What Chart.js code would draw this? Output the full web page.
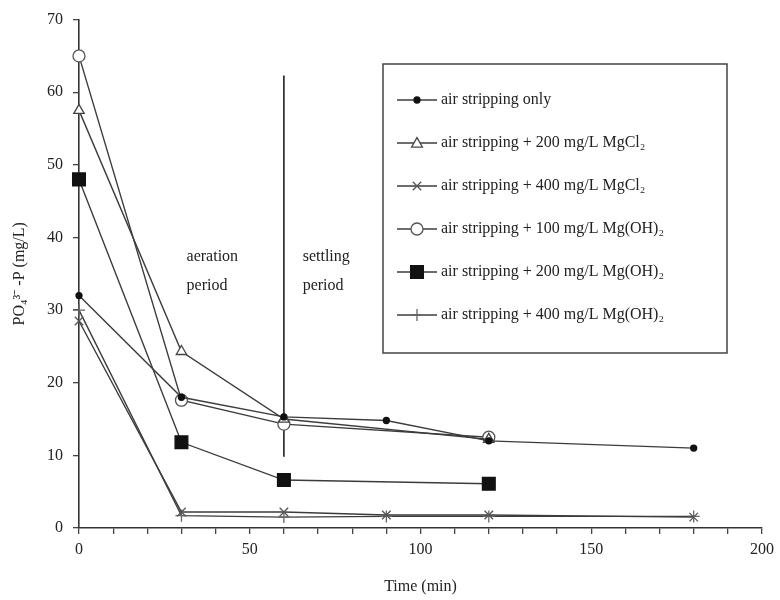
<!DOCTYPE html>
<html>
<head>
<meta charset="utf-8">
<script src="https://cdn.jsdelivr.net/npm/chart.js@4.4.1/dist/chart.umd.min.js"></script>
<style>
  html, body { margin: 0; padding: 0; background: #fff; }
  #wrap { width: 780px; height: 600px; }
</style>
</head>
<body>
<div id="wrap"><canvas id="c" width="780" height="600"></canvas></div>
<script>
// ---- data ----
const seriesNames = [
  "air stripping only",
  "air stripping + 200 mg/L MgCl₂",
  "air stripping + 400 mg/L MgCl₂",
  "air stripping + 100 mg/L Mg(OH)₂",
  "air stripping + 200 mg/L Mg(OH)₂",
  "air stripping + 400 mg/L Mg(OH)₂"
];
const timeOnly      = [0, 30, 60, 90, 120, 180];
const valuesOnly    = [32, 18, 15.3, 14.8, 12, 11];
const timeMgCl200   = [0, 30, 60, 120];
const valuesMgCl200 = [57.5, 24.3, 15, 12.2];
const timeMgCl400   = [0, 30, 60, 90, 120, 180];
const valuesMgCl400 = [28.5, 2.2, 2.2, 1.8, 1.8, 1.5];
const timeMgOH100   = [0, 30, 60, 120];
const valuesMgOH100 = [65, 17.6, 14.3, 12.5];
const timeMgOH200   = [0, 30, 60, 120];
const valuesMgOH200 = [48, 11.8, 6.6, 6.1];
const timeMgOH400   = [0, 30, 60, 90, 120, 180];
const valuesMgOH400 = [30, 1.7, 1.5, 1.6, 1.6, 1.6];

const dividerTime  = 60;
const dividerRange = [9.8, 62.3];
const periodLabels = [["aeration", "period"], ["settling", "period"]];

const xTickLabels = [0, 50, 100, 150, 200];
const yTickLabels = [0, 10, 20, 30, 40, 50, 60, 70];

const FONT = "'Liberation Serif', 'Times New Roman', serif";
const LINE = '#3c3c3c';

function pts(xs, ys) { return xs.map((x, i) => ({ x: x, y: ys[i] })); }

const styles = [
  { pointStyle: 'circle',   pointRadius: 3, bg: '#111', border: '#111' },
  { pointStyle: 'triangle', pointRadius: 6, bg: '#fff', border: '#444' },
  { pointStyle: 'crossRot', pointRadius: 6, bg: '#fff', border: '#555' },
  { pointStyle: 'circle',   pointRadius: 6, bg: '#fff', border: '#555' },
  { pointStyle: 'rect',     pointRadius: 9, bg: '#111', border: '#111' },
  { pointStyle: 'cross',    pointRadius: 6, bg: '#fff', border: '#666' }
];
const seriesData = [
  pts(timeOnly, valuesOnly),
  pts(timeMgCl200, valuesMgCl200),
  pts(timeMgCl400, valuesMgCl400),
  pts(timeMgOH100, valuesMgOH100),
  pts(timeMgOH200, valuesMgOH200),
  pts(timeMgOH400, valuesMgOH400)
];

const datasets = seriesData.map((d, i) => ({
  label: seriesNames[i],
  data: d,
  borderColor: LINE,
  borderWidth: 1.4,
  pointStyle: styles[i].pointStyle,
  pointRadius: styles[i].pointRadius,
  pointBackgroundColor: styles[i].bg,
  pointBorderColor: styles[i].border,
  pointBorderWidth: 1.3,
  tension: 0,
  fill: false,
  clip: false
}));
datasets.push({
  label: '_divider',
  data: dividerRange.map(v => ({ x: dividerTime, y: v })),
  borderColor: '#111',
  borderWidth: 1.5,
  pointRadius: 0,
  fill: false
});

// marker drawing for the boxed legend
function drawMarker(ctx, st, x, y) {
  const r = st.pointRadius;
  ctx.save();
  ctx.fillStyle = st.bg;
  ctx.strokeStyle = st.border;
  ctx.lineWidth = 1.3;
  ctx.beginPath();
  switch (st.pointStyle) {
    case 'circle':
      ctx.arc(x, y, r, 0, Math.PI * 2); ctx.fill(); ctx.stroke(); break;
    case 'triangle': {
      const s = r * 0.9;
      ctx.moveTo(x, y - s); ctx.lineTo(x + s, y + s * 0.75); ctx.lineTo(x - s, y + s * 0.75); ctx.closePath();
      ctx.fill(); ctx.stroke(); break;
    }
    case 'crossRot': {
      const s = r * 0.7;
      ctx.moveTo(x - s, y - s); ctx.lineTo(x + s, y + s); ctx.moveTo(x + s, y - s); ctx.lineTo(x - s, y + s); ctx.stroke(); break;
    }
    case 'cross':
      ctx.moveTo(x, y - r); ctx.lineTo(x, y + r); ctx.moveTo(x - r, y); ctx.lineTo(x + r, y); ctx.stroke(); break;
    case 'rect': {
      const s = r * Math.SQRT1_2;
      ctx.rect(x - s, y - s, 2 * s, 2 * s); ctx.fill(); ctx.stroke(); break;
    }
  }
  ctx.restore();
}

const overlay = {
  id: 'overlay',
  afterDatasetsDraw(chart) {
    const ctx = chart.ctx;
    const xs = chart.scales.x, ys = chart.scales.y;
    ctx.save();
    ctx.fillStyle = '#222';
    ctx.font = '16px ' + FONT;
    ctx.textBaseline = 'middle';
    ctx.textAlign = 'left';
    const lx = [31.5, 65.5];
    periodLabels.forEach((lines, i) => {
      lines.forEach((t, j) => {
        ctx.fillText(t, xs.getPixelForValue(lx[i]), ys.getPixelForValue(37.3 - j * 3.9));
      });
    });
    // boxed legend
    const bx = 383, by = 64, bw = 344, bh = 289;
    ctx.fillStyle = '#fff';
    ctx.fillRect(bx, by, bw, bh);
    ctx.strokeStyle = '#444';
    ctx.lineWidth = 1.5;
    ctx.strokeRect(bx, by, bw, bh);
    seriesNames.forEach((name, i) => {
      const y = 100 + i * 43;
      ctx.strokeStyle = LINE;
      ctx.lineWidth = 1.4;
      ctx.beginPath();
      ctx.moveTo(bx + 14, y); ctx.lineTo(bx + 54, y); ctx.stroke();
      drawMarker(ctx, styles[i], bx + 34, y);
      ctx.fillStyle = '#222';
      ctx.font = '16px ' + FONT;
      ctx.fillText(name, bx + 58, y);
    });
    ctx.restore();
  }
};

new Chart(document.getElementById('c'), {
  type: 'line',
  data: { datasets: datasets },
  plugins: [overlay],
  options: {
    responsive: false,
    animation: false,
    layout: { padding: { top: 18, right: 17, bottom: 0, left: 0 } },
    plugins: { legend: { display: false }, tooltip: { enabled: false } },
    scales: {
      x: {
        type: 'linear',
        min: 0, max: 200,
        ticks: {
          stepSize: 10,
          autoSkip: false,
          maxRotation: 0,
          color: '#222',
          font: { family: FONT, size: 16 },
          padding: 6,
          callback: v => xTickLabels.includes(v) ? String(v) : ''
        },
        grid: { display: true, drawOnChartArea: false, drawTicks: true, tickLength: 6, color: '#444', lineWidth: 1.3 },
        border: { display: true, color: '#333', width: 1.6 },
        title: { display: true, text: 'Time (min)', color: '#222', font: { family: FONT, size: 16 }, padding: { top: 4, bottom: 4 } },
        afterFit(scale) { scale.height = 72; }
      },
      y: {
        type: 'linear',
        min: 0, max: 70,
        ticks: {
          stepSize: 10,
          color: '#222',
          font: { family: FONT, size: 16 },
          padding: 10,
          callback: v => yTickLabels.includes(v) ? String(v) : ''
        },
        grid: { display: true, drawOnChartArea: false, drawTicks: true, tickLength: 6, color: '#444', lineWidth: 1.3 },
        border: { display: true, color: '#333', width: 1.6 },
        title: { display: true, text: 'PO₄³⁻ -P (mg/L)', color: '#222', font: { family: FONT, size: 16 }, padding: { top: 10, bottom: 4 } },
        afterFit(scale) { scale.width = 79; }
      }
    }
  }
});
</script>
</body>
</html>
